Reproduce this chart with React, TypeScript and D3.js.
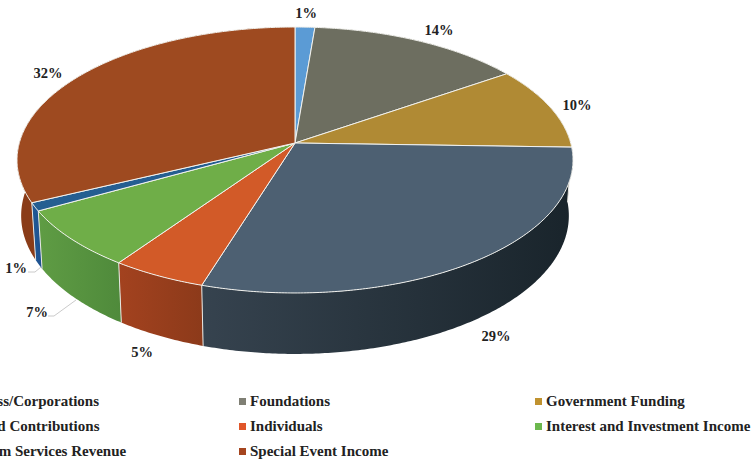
import React, { useEffect, useRef } from 'react';
import * as d3 from 'd3';

const categories = [
  'Business/Corporations',
  'Foundations',
  'Government Funding',
  'In-Kind Contributions',
  'Individuals',
  'Interest and Investment Income',
  'Program Services Revenue',
  'Special Event Income',
];
const shares = [1.3, 14.1, 10.1, 29.3, 4.9, 7.2, 1.0, 32.1];
const topColors = ['#5b9bd5', '#6d6e60', '#b08a34', '#4d6072', '#d25a28', '#6fae48', '#255e91', '#9e4a20'];
const wallFrom = ['#4a80b0', '#55564a', '#8a6c28', '#36434f', '#a3421f', '#5f9c44', '#1f5a95', '#8a3c18'];
const wallTo = ['#4a80b0', '#55564a', '#8a6c28', '#19242b', '#8c3a1a', '#4f8a3b', '#1f5090', '#8a3c18'];
const swatchColors = ['#5b9bd5', '#7f7f74', '#c0922f', '#4d6072', '#e0562a', '#6cb84e', '#255e91', '#a5451f'];

// label anchor (centre x, baseline y) for each slice
const labelSpots = [[306, 18], [439, 35], [577, 110], [496, 341], [142, 357], [37, 317], [16, 273], [48, 78]];
const leaders = [
  null, null, null, null, null,
  [[48, 316], [54, 316], [76, 300]],
  [[28, 272], [35, 272], [41, 267]],
  null,
];

const W = 752;
const H = 464;
const CX = 295;
const CY = 143;
const R = 275.7;
const B = 130.8;
const K = 0.1278; // perspective strength
const DROP = 55;
const LOWER_R = 271.6;
const LOWER_B = 136;

// angle is clockwise from 12 o'clock; layer 0 is the top face, 1 the bottom one
const project = (a: number, layer: number): [number, number] => {
  const x = Math.sin(a);
  const y = -Math.cos(a);
  const w = 1 / (1 - K * y);
  return layer
    ? [CX + LOWER_R * x * w, CY + DROP + LOWER_B * y * w]
    : [CX + R * x * w, CY + B * y * w];
};

const sampleArc = (a0: number, a1: number) => {
  const n = Math.max(2, Math.ceil((a1 - a0) / 0.01));
  return d3.range(n + 1).map((i) => a0 + ((a1 - a0) * i) / n);
};

const App = () => {
  const ref = useRef<SVGSVGElement>(null);

  useEffect(() => {
    const svg = d3.select(ref.current);
    svg.selectAll('*').remove();

    const pie = d3.pie<number>().sort(null).value((d) => d);
    const arcs = pie(shares);
    const line = d3.line();
    const defs = svg.append('defs');
    const font = "'Liberation Serif', serif";

    // side walls, the top face hides the back half
    arcs.forEach((d, i) => {
      const angles = sampleArc(d.startAngle, d.endAngle);
      const upper = angles.map((a) => project(a, 0));
      const lower = angles.map((a) => project(a, 1)).reverse();
      const outline = upper.concat(lower);
      const [x0, x1] = d3.extent(outline, (p) => p[0]) as [number, number];
      const grad = defs.append('linearGradient')
        .attr('id', `wall${i}`)
        .attr('gradientUnits', 'userSpaceOnUse')
        .attr('x1', x0).attr('x2', x1).attr('y1', 0).attr('y2', 0);
      grad.append('stop').attr('offset', 0).attr('stop-color', wallFrom[i]);
      grad.append('stop').attr('offset', 1).attr('stop-color', wallTo[i]);
      svg.append('path')
        .attr('d', line(outline) + 'Z')
        .attr('fill', `url(#wall${i})`);
    });

    // seams between the walls on the visible front
    arcs.forEach((d) => {
      const a = d.startAngle;
      if (Math.cos(a) > 0.05) return;
      svg.append('path')
        .attr('d', line([project(a, 0), project(a, 1)]))
        .attr('stroke', '#e8e8e4')
        .attr('stroke-width', 1);
    });

    // top face
    arcs.forEach((d, i) => {
      const rim = sampleArc(d.startAngle, d.endAngle).map((a) => project(a, 0));
      svg.append('path')
        .attr('d', line([[CX, CY] as [number, number], ...rim]) + 'Z')
        .attr('fill', topColors[i])
        .attr('stroke', '#f2f2ee')
        .attr('stroke-width', 1)
        .attr('stroke-linejoin', 'round');
    });

    // data labels
    arcs.forEach((d, i) => {
      svg.append('text')
        .attr('x', labelSpots[i][0])
        .attr('y', labelSpots[i][1])
        .attr('text-anchor', 'middle')
        .attr('font-family', font)
        .attr('font-weight', 'bold')
        .attr('font-size', 14.5)
        .attr('fill', '#222')
        .text(`${Math.round(d.data)}%`);
      const lead = leaders[i];
      if (lead) {
        svg.append('path')
          .attr('d', line(lead as [number, number][]))
          .attr('fill', 'none')
          .attr('stroke', '#bdbdbd')
          .attr('stroke-width', 0.8);
      }
    });

    // legend, first column runs off the page like the source
    const colX = d3.scalePoint<number>().domain([0, 1, 2]).range([-46, 546]);
    const rowY = d3.scalePoint<number>().domain([0, 1, 2]).range([406, 456]);
    categories.forEach((name, i) => {
      const col = i % 3;
      const row = Math.floor(i / 3);
      const x = colX(col) as number;
      const y = rowY(row) as number;
      svg.append('rect')
        .attr('x', x - 11).attr('y', y - 8)
        .attr('width', 7).attr('height', 7)
        .attr('fill', swatchColors[i]);
      svg.append('text')
        .attr('x', x).attr('y', y)
        .attr('font-family', font)
        .attr('font-weight', 'bold')
        .attr('font-size', 15)
        .attr('fill', '#222')
        .text(name);
    });
  }, []);

  return (
    <svg
      ref={ref}
      width={W}
      height={H}
      style={{ position: 'absolute', left: 0, top: 0, background: '#fff' }}
    />
  );
};

export default App;
